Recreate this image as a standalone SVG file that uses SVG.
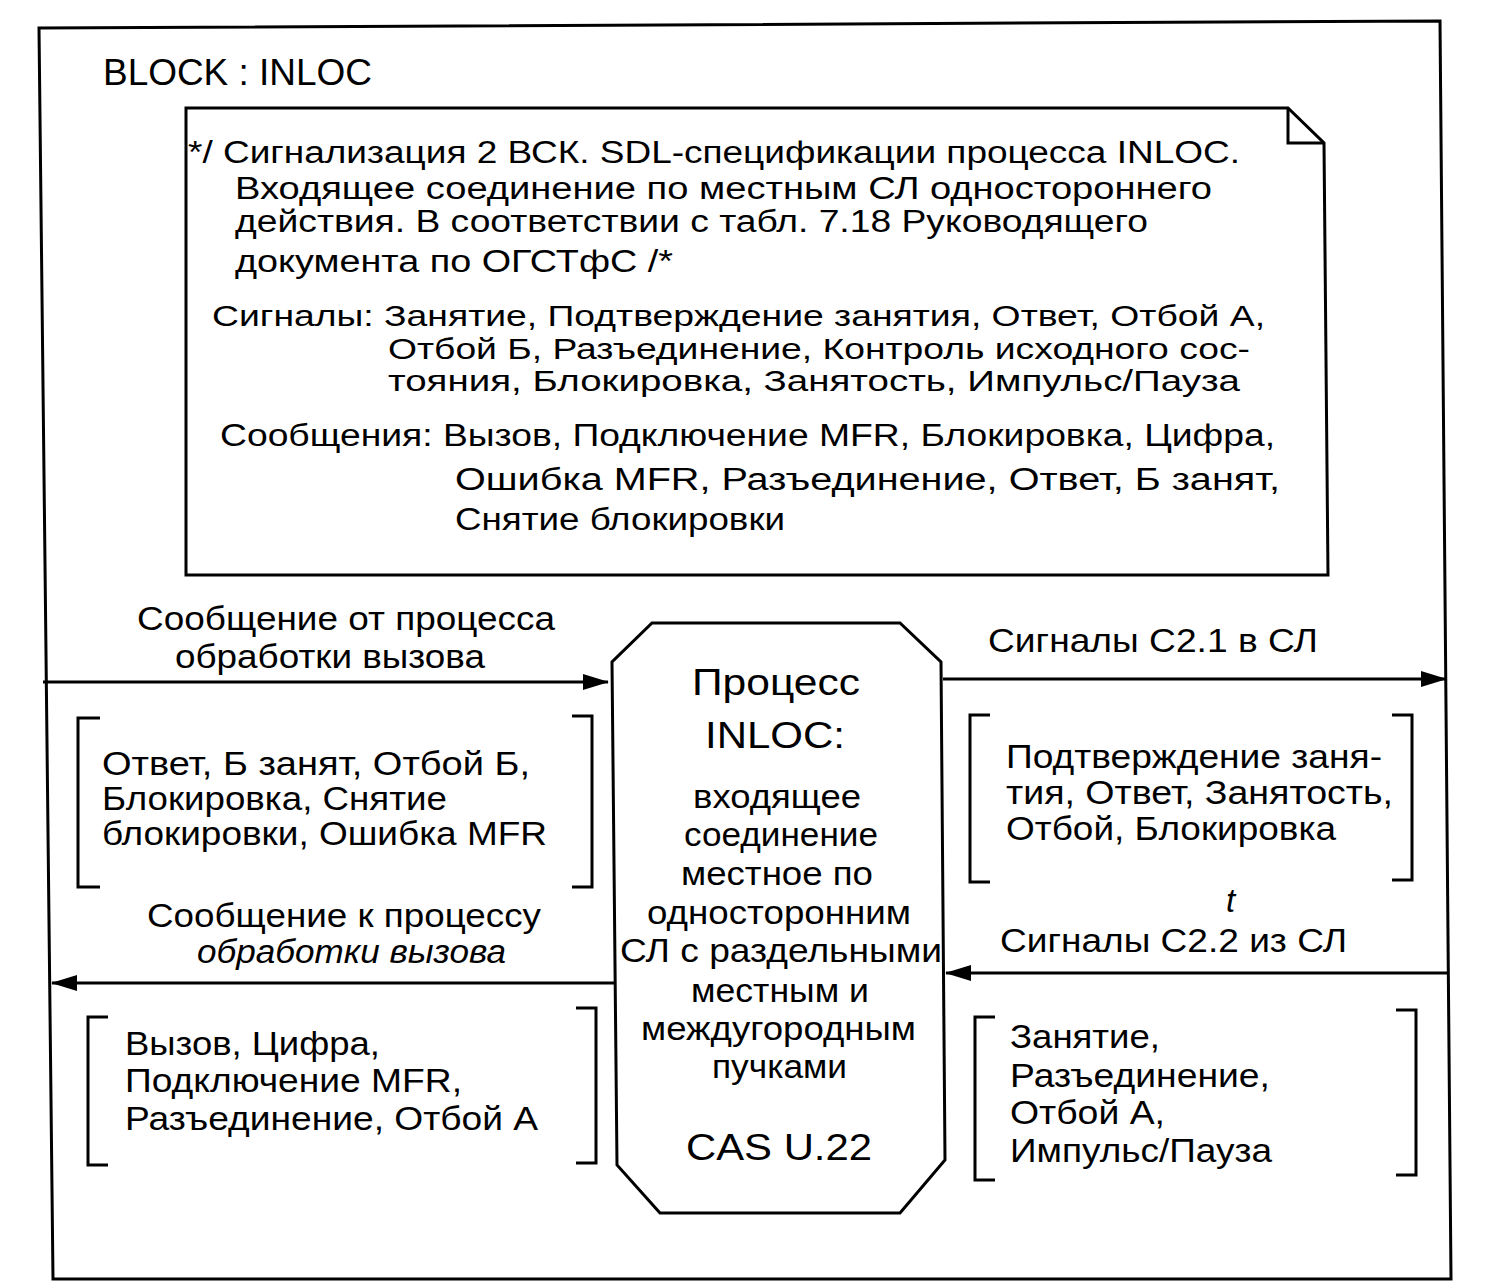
<svg xmlns="http://www.w3.org/2000/svg" width="1492" height="1288" viewBox="0 0 1492 1288">
<defs>
<style>
text{font-family:"Liberation Sans",Arial,sans-serif;fill:#000;font-size:33px}
.big{font-size:37px}
.cm{font-size:31px}
.cs{font-size:29px}
.ln{fill:none;stroke:#000;stroke-width:3}
</style>
<marker id="ah" markerWidth="26" markerHeight="16" refX="25" refY="8" orient="auto" markerUnits="userSpaceOnUse" viewBox="0 0 26 16">
<path d="M0,0 L26,8 L0,16 Z" fill="#000"/>
</marker>
</defs>
<rect width="1492" height="1288" fill="#fff"/>
<g id="frame">
<polygon class="ln" points="39,28 1440,21 1451,1279 53,1279"/>
<text x="103" y="85" class="big" textLength="269" lengthAdjust="spacingAndGlyphs">BLOCK : INLOC</text>
</g>
<g id="comment">
<path class="ln" d="M186,108 L1288,108 L1324,143 L1328,575 L186,575 Z"/>
<path class="ln" d="M1288,108 L1288,143 L1324,143"/>
<text x="188" y="163" class="cm" textLength="1052" lengthAdjust="spacingAndGlyphs">*/ Сигнализация 2 ВСК. SDL-спецификации процесса INLOC.</text>
<text x="235" y="199" class="cm" textLength="977" lengthAdjust="spacingAndGlyphs">Входящее соединение  по  местным СЛ одностороннего</text>
<text x="235" y="232" class="cm" textLength="913" lengthAdjust="spacingAndGlyphs">действия. В соответствии с табл. 7.18 Руководящего</text>
<text x="235" y="272" class="cm" textLength="438" lengthAdjust="spacingAndGlyphs">документа по ОГСТфС /*</text>
<text x="212" y="326" class="cs" textLength="1053" lengthAdjust="spacingAndGlyphs">Сигналы: Занятие, Подтверждение занятия, Ответ, Отбой А,</text>
<text x="388" y="359" class="cs" textLength="862" lengthAdjust="spacingAndGlyphs">Отбой Б, Разъединение, Контроль исходного сос-</text>
<text x="388" y="391" class="cs" textLength="852" lengthAdjust="spacingAndGlyphs">тояния,  Блокировка,  Занятость,  Импульс/Пауза</text>
<text x="220" y="446" class="cm" textLength="1055" lengthAdjust="spacingAndGlyphs">Сообщения: Вызов, Подключение MFR, Блокировка, Цифра,</text>
<text x="455" y="490" class="cm" textLength="825" lengthAdjust="spacingAndGlyphs">Ошибка  MFR,  Разъединение,  Ответ,  Б занят,</text>
<text x="455" y="530" class="cm" textLength="330" lengthAdjust="spacingAndGlyphs">Снятие блокировки</text>
</g>
<g id="process">
<polygon class="ln" points="652,623 900,623 941,662 945,1160 900,1213 660,1213 617,1165 612,662"/>
<text x="692" y="695" class="big" textLength="168" lengthAdjust="spacingAndGlyphs">Процесс</text>
<text x="705" y="748" class="big" textLength="140" lengthAdjust="spacingAndGlyphs">INLOC:</text>
<text x="693" y="808" textLength="168" lengthAdjust="spacingAndGlyphs">входящее</text>
<text x="684" y="846" textLength="194" lengthAdjust="spacingAndGlyphs">соединение</text>
<text x="681" y="885" textLength="192" lengthAdjust="spacingAndGlyphs">местное по</text>
<text x="647" y="924" textLength="264" lengthAdjust="spacingAndGlyphs">односторонним</text>
<text x="620" y="962" textLength="322" lengthAdjust="spacingAndGlyphs">СЛ с раздельными</text>
<text x="691" y="1002" textLength="178" lengthAdjust="spacingAndGlyphs">местным и</text>
<text x="641" y="1040" textLength="275" lengthAdjust="spacingAndGlyphs">междугородным</text>
<text x="712" y="1078" textLength="135" lengthAdjust="spacingAndGlyphs">пучками</text>
<text x="686" y="1160" class="big" textLength="186" lengthAdjust="spacingAndGlyphs">CAS U.22</text>
</g>
<g id="connectors">
<line class="ln" x1="43" y1="682" x2="608" y2="682" marker-end="url(#ah)"/>
<line class="ln" x1="943" y1="679" x2="1446" y2="679" marker-end="url(#ah)"/>
<line class="ln" x1="615" y1="983" x2="52" y2="983" marker-end="url(#ah)"/>
<line class="ln" x1="1449" y1="973" x2="946" y2="973" marker-end="url(#ah)"/>
</g>
<g id="msg-out">
<text x="137" y="630" textLength="418" lengthAdjust="spacingAndGlyphs">Сообщение от процесса</text>
<text x="175" y="668" textLength="310" lengthAdjust="spacingAndGlyphs">обработки вызова</text>
<path class="ln" d="M100,718 L78,718 L78,887 L100,887"/>
<path class="ln" d="M572,716 L592,716 L592,887 L572,887"/>
<text x="102" y="775" textLength="428" lengthAdjust="spacingAndGlyphs">Ответ, Б занят, Отбой Б,</text>
<text x="102" y="810" textLength="345" lengthAdjust="spacingAndGlyphs">Блокировка, Снятие</text>
<text x="102" y="845" textLength="445" lengthAdjust="spacingAndGlyphs">блокировки, Ошибка MFR</text>
</g>
<g id="sig-out">
<text x="988" y="652" textLength="330" lengthAdjust="spacingAndGlyphs">Сигналы С2.1 в СЛ</text>
<path class="ln" d="M990,715 L970,715 L970,882 L990,882"/>
<path class="ln" d="M1392,715 L1412,715 L1412,880 L1392,880"/>
<text x="1006" y="768" textLength="376" lengthAdjust="spacingAndGlyphs">Подтверждение заня-</text>
<text x="1006" y="804" textLength="387" lengthAdjust="spacingAndGlyphs">тия, Ответ, Занятость,</text>
<text x="1006" y="840" textLength="330" lengthAdjust="spacingAndGlyphs">Отбой, Блокировка</text>
</g>
<g id="msg-in">
<text x="147" y="927" textLength="394" lengthAdjust="spacingAndGlyphs">Сообщение к процессу</text>
<text x="197" y="963" font-style="italic" textLength="309" lengthAdjust="spacingAndGlyphs">обработки вызова</text>
<path class="ln" d="M108,1017 L88,1017 L88,1165 L108,1165"/>
<path class="ln" d="M576,1008 L596,1008 L596,1163 L576,1163"/>
<text x="125" y="1055" textLength="255" lengthAdjust="spacingAndGlyphs">Вызов, Цифра,</text>
<text x="125" y="1092" textLength="337" lengthAdjust="spacingAndGlyphs">Подключение MFR,</text>
<text x="125" y="1130" textLength="413" lengthAdjust="spacingAndGlyphs">Разъединение, Отбой А</text>
</g>
<g id="sig-in">
<text x="1226" y="912" font-size="22" font-style="italic">t</text>
<text x="1000" y="952" textLength="347" lengthAdjust="spacingAndGlyphs">Сигналы С2.2 из СЛ</text>
<path class="ln" d="M995,1017 L975,1017 L975,1180 L995,1180"/>
<path class="ln" d="M1396,1010 L1416,1010 L1416,1175 L1396,1175"/>
<text x="1010" y="1048" textLength="150" lengthAdjust="spacingAndGlyphs">Занятие,</text>
<text x="1010" y="1087" textLength="260" lengthAdjust="spacingAndGlyphs">Разъединение,</text>
<text x="1010" y="1124" textLength="155" lengthAdjust="spacingAndGlyphs">Отбой А,</text>
<text x="1010" y="1162" textLength="262" lengthAdjust="spacingAndGlyphs">Импульс/Пауза</text>
</g>
</svg>
